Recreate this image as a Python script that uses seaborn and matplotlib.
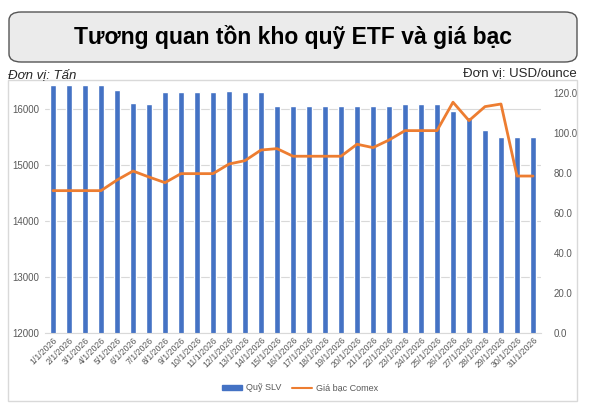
import numpy as np
import pandas as pd
import matplotlib.pyplot as plt
from matplotlib.patches import FancyBboxPatch, Rectangle
from matplotlib.lines import Line2D
import seaborn as sns

# data
dates = [f"{d}/1/2026" for d in range(1, 32)]
slv_tons = [16430, 16430, 16430, 16430, 16346, 16113, 16100, 16304, 16304, 16304,
            16304, 16333, 16310, 16310, 16054, 16065, 16065, 16065, 16065, 16065,
            16065, 16065, 16090, 16090, 16090, 15970, 15868, 15629, 15510, 15510,
            15510]
silver_price = [71.0, 71.0, 71.0, 71.0, 76.3, 80.8, 77.8, 75.0, 79.5, 79.5,
                79.5, 84.3, 86.0, 91.3, 92.0, 88.2, 88.2, 88.2, 88.2, 94.2,
                92.5, 96.3, 101.0, 101.0, 101.0, 115.2, 106.0, 113.0, 114.3, 78.3,
                78.3]
left_ticks = [12000, 13000, 14000, 15000, 16000]
right_ticks = [0, 20, 40, 60, 80, 100, 120]

df = pd.DataFrame({"date": dates, "slv": slv_tons, "price": silver_price,
                   "pos": np.arange(len(dates))})

BLUE = "#4472C4"
ORANGE = "#ED7D31"
GREY = "#595959"

sns.set_style("white")
plt.rcParams["font.family"] = ["Liberation Sans", "DejaVu Sans"]

fig = plt.figure(figsize=(6.12, 4.07), dpi=100)
W, H = 612, 407

# title box
fig.patches.append(FancyBboxPatch((9 / W, 1 - 62 / H), 568 / W, 50 / H,
                                  boxstyle="round,pad=0,rounding_size=0.02",
                                  transform=fig.transFigure, facecolor="#EBEBEB",
                                  edgecolor="#555555", linewidth=1.0))
fig.text(293 / W, 1 - 37 / H, "Tương quan tồn kho quỹ ETF và giá bạc",
         ha="center", va="center", fontsize=16.5, fontweight="bold", color="black")

# chart frame
fig.patches.append(Rectangle((8 / W, 1 - 401 / H), 569 / W, 321 / H,
                             transform=fig.transFigure, facecolor="none",
                             edgecolor="#D9D9D9", linewidth=1.0))
fig.text(8 / W, 1 - 75 / H, "Đơn vị: Tấn", ha="left", va="center",
         fontsize=9.5, style="italic")
fig.text(577 / W, 1 - 73 / H, "Đơn vị: USD/ounce", ha="right", va="center",
         fontsize=9.5)

ax = fig.add_axes([45 / W, 1 - 332.7 / H, 496 / W, 250.7 / H])
sns.barplot(data=df, x="pos", y="slv", color=BLUE, width=0.42, ax=ax,
            saturation=1, zorder=2)
ax.set_ylim(12000, 16490)
ax.set_yticks(left_ticks)
ax.set_xlim(-0.5, len(dates) - 0.5)
ax.set_xticks(df["pos"])
ax.set_xticklabels(dates, rotation=45, ha="right", rotation_mode="anchor")
ax.grid(axis="y", color="#D9D9D9", linewidth=0.8, zorder=0)
ax.set_axisbelow(True)
ax.set_xlabel("")
ax.set_ylabel("")
for s in ax.spines.values():
    s.set_visible(False)
ax.spines["bottom"].set_visible(True)
ax.spines["bottom"].set_color("#D9D9D9")
ax.tick_params(axis="y", length=0, labelsize=7, colors=GREY, pad=4)
ax.tick_params(axis="x", length=0, labelsize=6.3, colors=GREY, pad=2)

ax2 = ax.twinx()
sns.lineplot(data=df, x="pos", y="price", color=ORANGE, linewidth=2.0, ax=ax2)
ax2.set_ylim(0, 125.3)
ax2.set_yticks(right_ticks)
ax2.set_yticklabels([f"{v:.1f}" for v in right_ticks])
ax2.set_xlim(-0.5, len(dates) - 0.5)
ax2.set_ylabel("")
ax2.set_xlabel("")
for s in ax2.spines.values():
    s.set_visible(False)
ax2.tick_params(axis="y", length=0, labelsize=7, colors=GREY, pad=9)

handles = [Rectangle((0, 0), 1, 1, color=BLUE),
           Line2D([0], [0], color=ORANGE, linewidth=1.5)]
fig.legend(handles, ["Quỹ SLV", "Giá bạc Comex"], loc="center",
           bbox_to_anchor=(300 / W, 1 - 388 / H), ncol=2, frameon=False,
           fontsize=6.5, labelcolor=GREY, handlelength=2.2, handleheight=0.5,
           columnspacing=1.2, handletextpad=0.4)

fig.savefig("out.png", dpi=100)
